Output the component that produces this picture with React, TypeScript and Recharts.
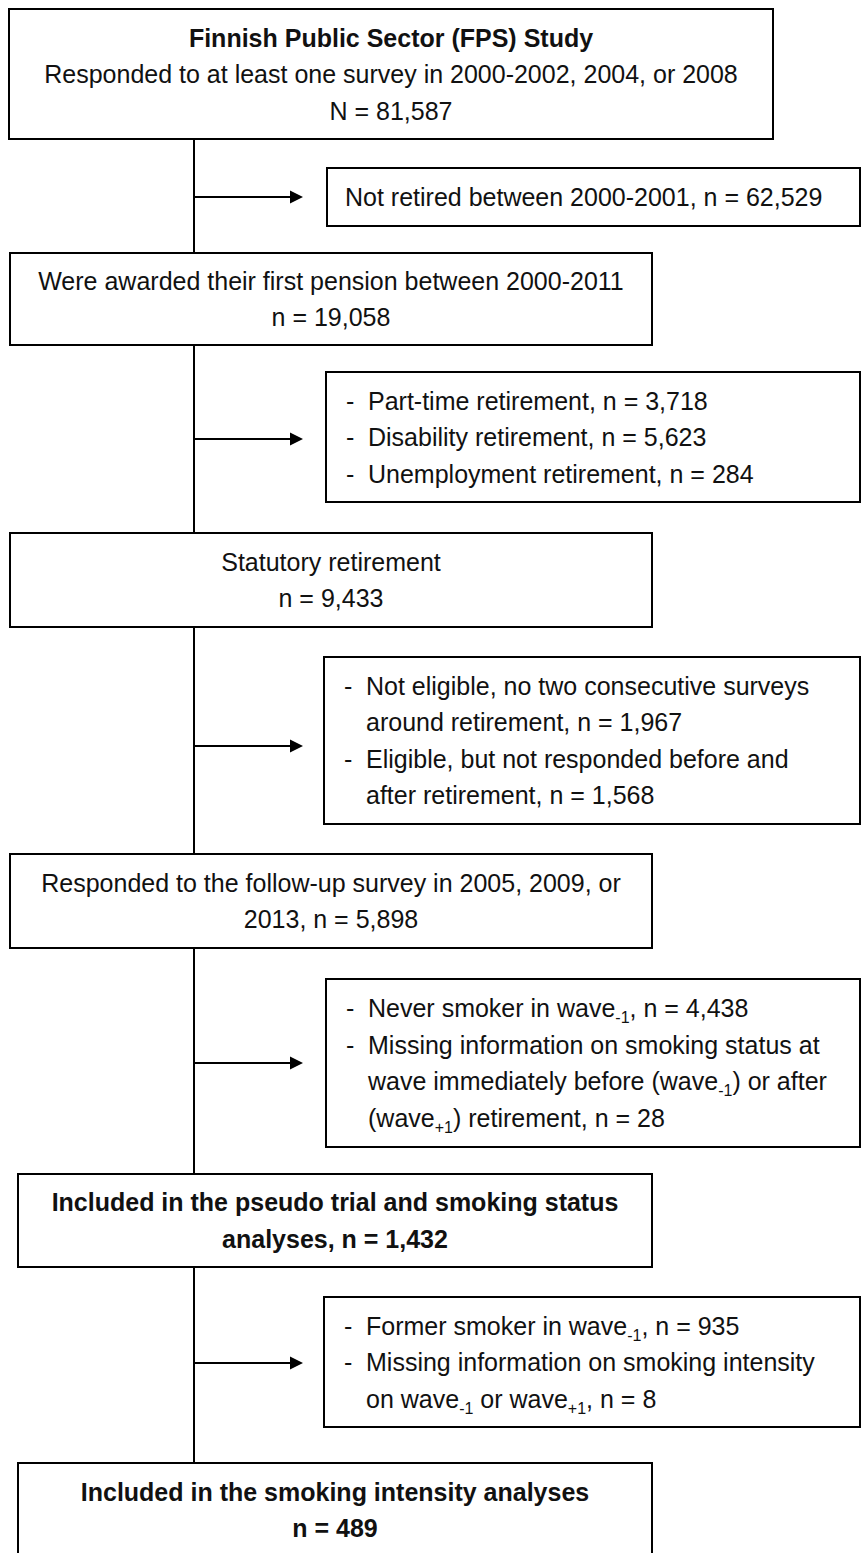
import React from 'react';
import { ComposedChart, XAxis, YAxis, ReferenceArea, ReferenceLine } from 'recharts';

// flow steps (text only); "_{..}" marks a subscript
const mainSteps = [
  ['Finnish Public Sector (FPS) Study', 'Responded to at least one survey in 2000-2002, 2004, or 2008', 'N = 81,587'],
  ['Were awarded their first pension between 2000-2011', 'n = 19,058'],
  ['Statutory retirement', 'n = 9,433'],
  ['Responded to the follow-up survey in 2005, 2009, or', '2013, n = 5,898'],
  ['Included in the pseudo trial and smoking status', 'analyses, n = 1,432'],
  ['Included in the smoking intensity analyses', 'n = 489'],
];
// which lines are bold in each step
const boldLines = [[0], [], [], [], [0, 1], [0, 1]];

// exclusions: each entry is a list of bullets, each bullet a list of lines
const exclusions = [
  [['Not retired between 2000-2001, n = 62,529']],
  [['Part-time retirement, n = 3,718'], ['Disability retirement, n = 5,623'], ['Unemployment retirement, n = 284']],
  [['Not eligible, no two consecutive surveys', 'around retirement, n = 1,967'], ['Eligible, but not responded before and', 'after retirement, n = 1,568']],
  [['Never smoker in wave_{-1}, n = 4,438'], ['Missing information on smoking status at', 'wave immediately before (wave_{-1}) or after', '(wave_{+1}) retirement, n = 28']],
  [['Former smoker in wave_{-1}, n = 935'], ['Missing information on smoking intensity', 'on wave_{-1} or wave_{+1}, n = 8']],
];
const exclBulleted = [false, true, true, true, true];

// layout (chart units = px)
const W = 861;
const H = 1553;
const stemX = 194;
const mainBoxes = [
  [9, 773, 9, 139],
  [10, 652, 253, 345],
  [10, 652, 533, 627],
  [10, 652, 854, 948],
  [18, 652, 1174, 1267],
  [18, 652, 1463, 1557],
];
const exclBoxes = [
  [327, 860, 168, 226],
  [326, 860, 372, 502],
  [324, 860, 657, 824],
  [326, 860, 979, 1147],
  [324, 860, 1297, 1427],
];
const arrowY = [197, 439, 746, 1063, 1363];
const arrowTip = 303;

const FONT = '"Liberation Sans", Arial, sans-serif';
const FS = 25;
const LH = 36.5;

const rich = (text: string) => {
  const parts = text.split(/(_\{[^}]*\})/).filter(Boolean);
  let shifted = false;
  return parts.map((part, i) => {
    if (part.startsWith('_{')) {
      shifted = true;
      return <tspan key={i} fontSize={16} dy={6}>{part.slice(2, -1)}</tspan>;
    }
    const dy = shifted ? -6 : 0;
    shifted = false;
    return <tspan key={i} dy={dy}>{part}</tspan>;
  });
};

const mainShape = (idx: number) => (p: any) => {
  const lines = mainSteps[idx];
  const cy = p.y + p.height / 2;
  const cx = p.x + p.width / 2;
  return (
    <g>
      <rect x={p.x} y={p.y} width={p.width} height={p.height} fill="#fff" stroke="#000" strokeWidth={2} />
      {lines.map((l, i) => (
        <text key={i} x={cx} y={cy + (i - (lines.length - 1) / 2) * LH + 9} textAnchor="middle"
          fontFamily={FONT} fontSize={FS} fontWeight={boldLines[idx].includes(i) ? 700 : 400} fill="#111">
          {rich(l)}
        </text>
      ))}
    </g>
  );
};

const exclShape = (idx: number) => (p: any) => {
  const bullets = exclusions[idx];
  const flat: { text: string; dash: boolean }[] = [];
  bullets.forEach((b) => b.forEach((t, j) => flat.push({ text: t, dash: exclBulleted[idx] && j === 0 })));
  const cy = p.y + p.height / 2;
  const textX = exclBulleted[idx] ? p.x + 42 : p.x + 18;
  return (
    <g>
      <rect x={p.x} y={p.y} width={p.width} height={p.height} fill="#fff" stroke="#000" strokeWidth={2} />
      {flat.map((l, i) => {
        const y = cy + (i - (flat.length - 1) / 2) * LH + 9;
        return (
          <g key={i}>
            {l.dash && (
              <text x={p.x + 20} y={y} fontFamily={FONT} fontSize={FS} fill="#111">-</text>
            )}
            <text x={textX} y={y} fontFamily={FONT} fontSize={FS} fill="#111">{rich(l.text)}</text>
          </g>
        );
      })}
    </g>
  );
};

const arrowShape = (p: any) => (
  <g>
    <line x1={p.x1} y1={p.y1} x2={p.x2 - 10} y2={p.y2} stroke="#000" strokeWidth={2} />
    <path d={`M${p.x2},${p.y2} L${p.x2 - 13},${p.y2 - 6.5} L${p.x2 - 13},${p.y2 + 6.5} Z`} fill="#000" />
  </g>
);

export default function App() {
  return (
    <div style={{ position: 'absolute', left: 0, top: 0, background: '#fff' }}>
      <ComposedChart width={W} height={H} data={[]} margin={{ top: 0, right: 0, bottom: 0, left: 0 }}>
        <XAxis type="number" dataKey="x" domain={[0, W]} hide allowDataOverflow />
        <YAxis type="number" dataKey="y" domain={[0, H]} reversed hide allowDataOverflow />
        {mainBoxes.slice(0, -1).map((b, i) => (
          <ReferenceLine key={`s${i}`} segment={[{ x: stemX, y: b[3] }, { x: stemX, y: mainBoxes[i + 1][2] }]}
            stroke="#000" strokeWidth={2} ifOverflow="visible" />
        ))}
        {arrowY.map((y, i) => (
          <ReferenceLine key={`a${i}`} segment={[{ x: stemX, y }, { x: arrowTip, y }]} shape={arrowShape} ifOverflow="visible" />
        ))}
        {mainBoxes.map((b, i) => (
          <ReferenceArea key={`m${i}`} x1={b[0]} x2={b[1]} y1={b[2]} y2={b[3]} ifOverflow="visible" shape={mainShape(i)} />
        ))}
        {exclBoxes.map((b, i) => (
          <ReferenceArea key={`e${i}`} x1={b[0]} x2={b[1]} y1={b[2]} y2={b[3]} ifOverflow="visible" shape={exclShape(i)} />
        ))}
      </ComposedChart>
    </div>
  );
}
